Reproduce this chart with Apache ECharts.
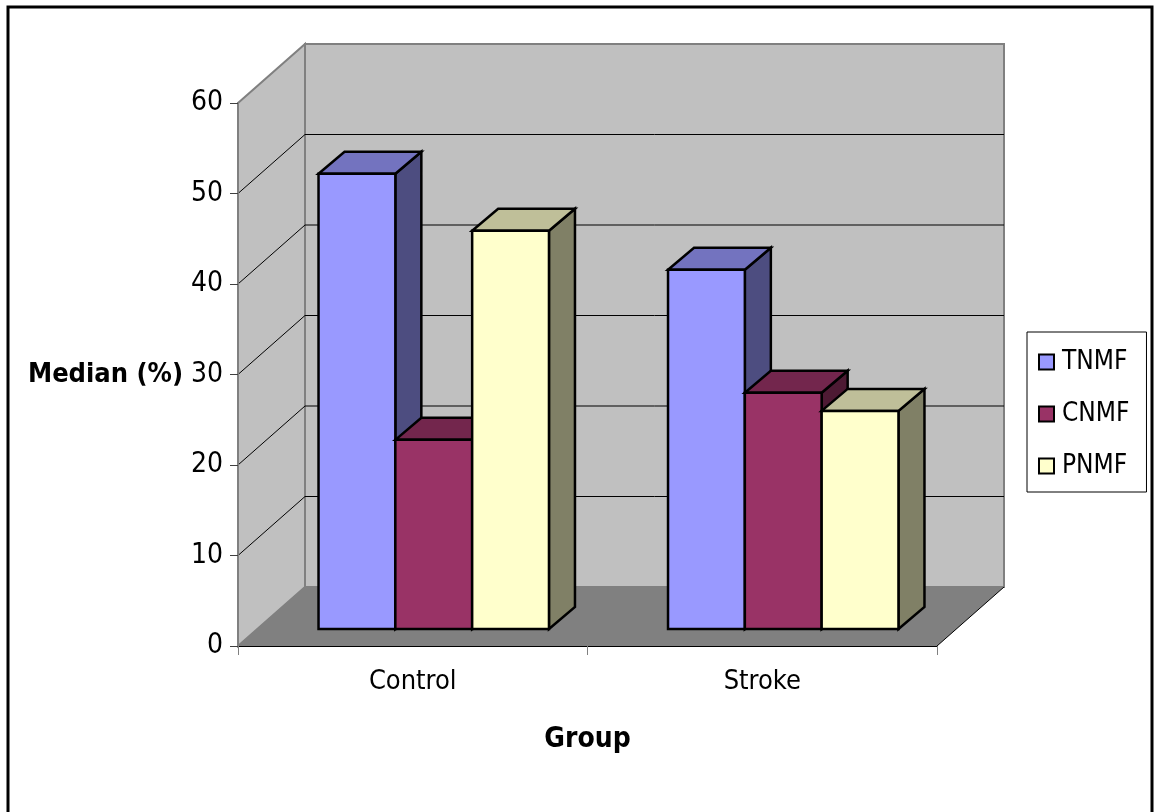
<!DOCTYPE html>
<html>
<head>
<meta charset="utf-8">
<title>Median by group</title>
<script src="https://cdn.jsdelivr.net/npm/echarts@6/dist/echarts.min.js"></script>
<style>
  html, body { margin: 0; padding: 0; background: #fff; }
  #chart { width: 1157px; height: 812px; }
</style>
</head>
<body>
<div id="chart"></div>
<script>
// data
var categories = ['Control', 'Stroke']
var seriesNames = ['TNMF', 'CNMF', 'PNMF']
var tnmf = [50.3, 39.7]
var cnmf = [20.9, 26.1]
var pnmf = [44.0, 24.1]
var yMin = 0
var yMax = 60
var yStep = 10

// colours: front, top, side
var faceColors = {
  TNMF: ['#9999ff', '#7373bf', '#4d4d80'],
  CNMF: ['#993366', '#73264d', '#4d1a33'],
  PNMF: ['#ffffcc', '#bfbf99', '#808066']
}

var font = "'Liberation Sans Narrow', 'DejaVu Sans Condensed', 'Liberation Sans', sans-serif"
var wallDepth = [67, -59]   // oblique offset of the back wall
var barFront = [21, -17]    // where the bar front sits in depth
var barDepth = [26, -22]
var gapRatio = 1.55

var chart = echarts.init(document.getElementById('chart'))

function renderWalls (params, api) {
  var cs = params.coordSys
  var x0 = cs.x
  var x1 = cs.x + cs.width
  var dx = wallDepth[0]
  var dy = wallDepth[1]
  var yb = api.coord([0, yMin])[1]
  var yt = api.coord([0, yMax])[1]
  var children = []
  // left wall
  children.push({
    type: 'polygon',
    shape: { points: [[x0, yt], [x0 + dx, yt + dy], [x0 + dx, yb + dy], [x0, yb]] },
    style: { fill: '#c0c0c0', stroke: '#808080', lineWidth: 2 }
  })
  // back wall
  children.push({
    type: 'polygon',
    shape: { points: [[x0 + dx, yt + dy], [x1 + dx, yt + dy], [x1 + dx, yb + dy], [x0 + dx, yb + dy]] },
    style: { fill: '#c0c0c0', stroke: '#808080', lineWidth: 2 }
  })
  // grid lines on both walls
  for (var v = yMin + yStep; v < yMax; v += yStep) {
    var y = api.coord([0, v])[1]
    children.push({
      type: 'polyline',
      shape: { points: [[x0, y], [x0 + dx, y + dy], [x1 + dx, y + dy]] },
      style: { stroke: '#000', lineWidth: 1, fill: null }
    })
  }
  // floor
  children.push({
    type: 'polygon',
    shape: { points: [[x0, yb], [x0 + dx, yb + dy], [x1 + dx, yb + dy], [x1, yb]] },
    style: { fill: '#808080', stroke: null }
  })
  children.push({
    type: 'line',
    shape: { x1: x1, y1: yb, x2: x1 + dx, y2: yb + dy },
    style: { stroke: '#000', lineWidth: 1 }
  })
  return { type: 'group', children: children }
}

function makeBarRenderer (seriesIndex, colors) {
  return function (params, api) {
    var cat = api.value(0)
    var base = api.coord([cat, yMin])
    var yTop = api.coord([cat, api.value(1)])[1]
    var catW = api.size([1, 0])[0]
    var n = seriesNames.length
    var barW = catW / (n + gapRatio)
    var left = base[0] - n * barW / 2 + seriesIndex * barW + barFront[0]
    var right = left + barW
    var top = yTop + barFront[1]
    var bottom = base[1] + barFront[1]
    var bx = barDepth[0]
    var by = barDepth[1]
    var st = { stroke: '#000', lineWidth: 2.5, lineJoin: 'miter' }
    return {
      type: 'group',
      children: [
        {
          type: 'polygon',
          shape: { points: [[right, top], [right + bx, top + by], [right + bx, bottom + by], [right, bottom]] },
          style: Object.assign({ fill: colors[2] }, st)
        },
        {
          type: 'polygon',
          shape: { points: [[left, top], [left + bx, top + by], [right + bx, top + by], [right, top]] },
          style: Object.assign({ fill: colors[1] }, st)
        },
        {
          type: 'rect',
          shape: { x: left, y: top, width: barW, height: bottom - top },
          style: Object.assign({ fill: colors[0] }, st)
        }
      ]
    }
  }
}

var values = [tnmf, cnmf, pnmf]
var series = [{
  type: 'custom',
  name: 'walls',
  silent: true,
  z: 0,
  renderItem: renderWalls,
  data: [[0, 0]]
}]
seriesNames.forEach(function (name, i) {
  series.push({
    type: 'custom',
    name: name,
    z: 3,
    itemStyle: { color: faceColors[name][0] },
    renderItem: makeBarRenderer(i, faceColors[name]),
    data: values[i].map(function (v, k) { return [k, v] })
  })
})

chart.setOption({
  backgroundColor: '#fff',
  animation: false,
  graphic: [{
    type: 'rect',
    shape: { x: 8, y: 7, width: 1144, height: 840 },
    style: { fill: null, stroke: '#000', lineWidth: 3 },
    z: 100
  }],
  grid: {
    left: 238,
    right: 220,
    top: 103,
    bottom: 166,
    containLabel: false,
    outerBoundsMode: 'none'
  },
  legend: {
    data: seriesNames,
    orient: 'vertical',
    left: 1027,
    top: 332,
    padding: [17, 17, 13, 11],
    itemGap: 26,
    itemWidth: 15,
    itemHeight: 15,
    icon: 'rect',
    backgroundColor: '#fff',
    borderColor: '#000',
    borderWidth: 1,
    itemStyle: { borderColor: '#000', borderWidth: 2 },
    textStyle: { fontFamily: font, fontSize: 26, color: '#000', padding: [0, 0, 0, 3] }
  },
  xAxis: {
    type: 'category',
    data: categories,
    z: 10,
    name: 'Group',
    nameLocation: 'middle',
    nameGap: 80,
    nameTextStyle: { fontFamily: font, fontSize: 28, fontWeight: 'bold', color: '#000' },
    axisLine: { lineStyle: { color: '#000', width: 1 } },
    axisTick: { show: true, length: 9, lineStyle: { color: '#808080', width: 1 } },
    axisLabel: { fontFamily: font, fontSize: 27, color: '#000', margin: 22 },
    splitLine: { show: false }
  },
  yAxis: {
    type: 'value',
    min: yMin,
    max: yMax,
    interval: yStep,
    z: 10,
    name: 'Median (%)',
    nameLocation: 'middle',
    nameRotate: 0,
    nameGap: 55,
    nameTextStyle: { fontFamily: font, fontSize: 27, fontWeight: 'bold', color: '#000' },
    axisLine: { show: true, lineStyle: { color: '#808080', width: 2 } },
    axisTick: { show: true, length: 8, lineStyle: { color: '#404040', width: 1 } },
    axisLabel: { fontFamily: font, fontSize: 28, color: '#000', margin: 15 },
    splitLine: { show: false }
  },
  series: series
})
</script>
</body>
</html>
